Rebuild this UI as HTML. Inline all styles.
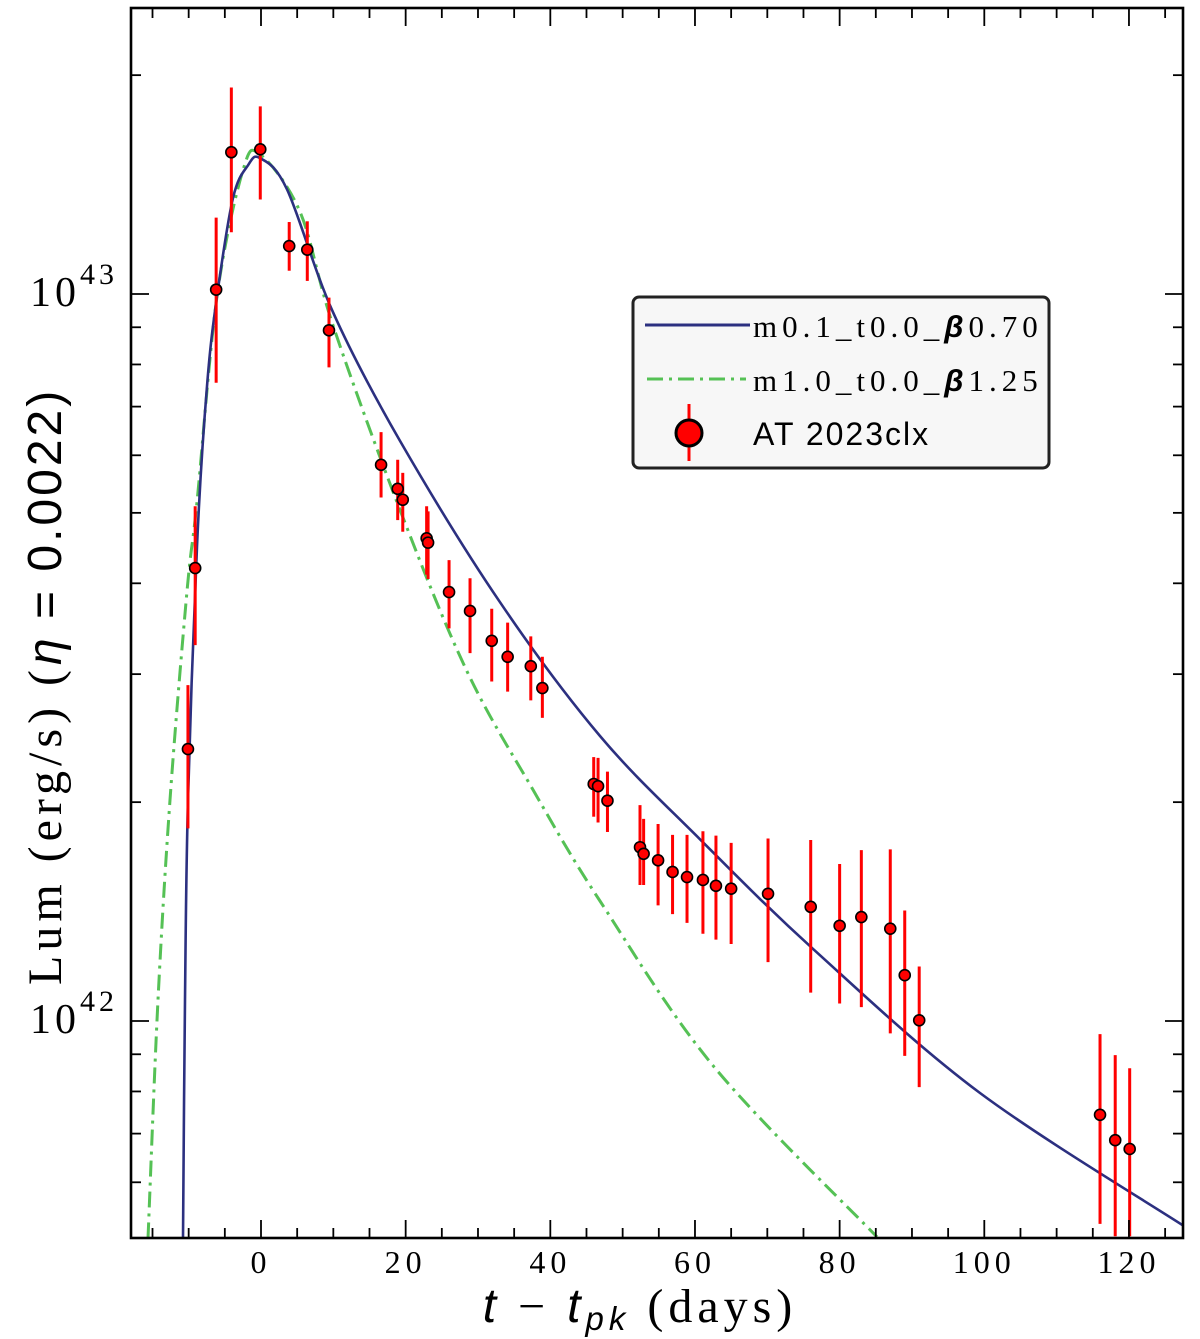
<!DOCTYPE html>
<html><head><meta charset="utf-8"><style>
html,body{margin:0;padding:0;background:#fff;}
svg{display:block;}
</style></head><body>
<div style="position:relative;width:1200px;height:1339px;">
<svg id="chart" width="1200" height="1339" viewBox="0 0 1200 1339" xmlns="http://www.w3.org/2000/svg" style="position:absolute;left:0;top:0;">
<g id="plot"></g>
</svg>
<svg width="1200" height="1339" xmlns="http://www.w3.org/2000/svg" style="position:absolute;left:0;top:0;pointer-events:none;">
  <text x="640" y="1322" text-anchor="middle" font-family="Liberation Serif, serif" font-size="48" letter-spacing="5"><tspan font-family="Liberation Sans, sans-serif" font-style="italic">t</tspan> − <tspan font-family="Liberation Sans, sans-serif" font-style="italic">t</tspan><tspan font-family="Liberation Sans, sans-serif" font-style="italic" font-size="33" dy="8">pk</tspan><tspan dy="-8"> (days)</tspan></text>
  <text transform="translate(61,985) rotate(-90)" text-anchor="start" font-family="Liberation Serif, serif" font-size="48" letter-spacing="5">Lum (erg/s) (<tspan font-family="Liberation Sans, sans-serif" font-style="italic" letter-spacing="3">η</tspan><tspan font-family="Liberation Sans, sans-serif" letter-spacing="3"> = 0.0022)</tspan></text>
  <g>
    <rect x="633" y="297" width="416" height="171" rx="6" fill="#f7f7f7" stroke="#222" stroke-width="3"/>
    <line x1="645" y1="325" x2="750" y2="325" stroke="#2c3080" stroke-width="3"/>
    <text x="753" y="337" font-family="Liberation Serif, serif" font-size="31" letter-spacing="5">m0.1_t0.0_<tspan font-style="italic" font-weight="bold" font-family="Liberation Sans, sans-serif">β</tspan>0.70</text>
    <line x1="647" y1="379" x2="746" y2="379" stroke="#55c155" stroke-width="3" stroke-dasharray="16,6,3,6"/>
    <text x="753" y="391" font-family="Liberation Serif, serif" font-size="31" letter-spacing="5">m1.0_t0.0_<tspan font-style="italic" font-weight="bold" font-family="Liberation Sans, sans-serif">β</tspan>1.25</text>
    <line x1="689" y1="404" x2="689" y2="461" stroke="#ff0000" stroke-width="3"/>
    <circle cx="689" cy="433" r="13" fill="#ff0000" stroke="#000" stroke-width="3"/>
    <text x="753" y="445" font-family="Liberation Sans, sans-serif" font-size="32" letter-spacing="2">AT 2023clx</text>
  </g>
</svg>
</div>
<script>
// Observed data (days since peak, log10 luminosity, errors in dex)
const obsDays=[-10.1,-9.1,-6.2,-4.1,-0.1,3.9,6.4,9.4,16.6,18.9,19.6,22.9,23.1,26.0,28.9,31.9,34.1,37.3,38.9,46.0,46.6,47.9,52.4,52.9,54.9,56.9,58.9,61.1,62.9,65.0,70.1,76.0,80.0,83.0,87.0,89.0,91.0,116.0,118.1,120.1];
const obsLogL=[42.374,42.623,43.006,43.195,43.199,43.066,43.061,42.950,42.765,42.732,42.717,42.664,42.658,42.590,42.564,42.523,42.501,42.488,42.458,42.326,42.323,42.303,42.239,42.230,42.221,42.205,42.198,42.194,42.186,42.182,42.175,42.157,42.131,42.143,42.127,42.063,42.001,41.871,41.836,41.824];
const obsErrUp=[.088,.085,.099,.089,.059,.033,.039,.045,.045,.040,.037,.044,.043,.044,.045,.044,.047,.041,.043,.037,.039,.040,.058,.048,.050,.051,.058,.067,.069,.063,.076,.092,.085,.092,.109,.089,.074,.111,.117,.111];
const obsErrDn=[.109,.106,.128,.110,.069,.034,.043,.051,.045,.043,.044,.050,.050,.050,.058,.056,.048,.047,.041,.045,.050,.043,.052,.043,.062,.058,.063,.074,.074,.076,.094,.118,.107,.124,.144,.111,.092,.150,.132,.120];
// Model m0.1_t0.0_beta0.70
const blueDays=[-10.78,-10.51,-10.09,-8.85,-7.47,-6.08,-3.87,-1.80,-0.14,3.59,9.95,19.22,33.04,46.87,60.69,76.46,99.41,127.75];
const blueLogL=[41.701,42.029,42.304,42.653,42.873,42.997,43.132,43.177,43.187,43.144,42.975,42.798,42.576,42.392,42.250,42.098,41.901,41.717];
// Model m1.0_t0.0_beta1.25
const greenDays=[-15.62,-14.24,-12.58,-10.23,-8.85,-6.08,-2.5,-0.14,5.39,9.95,19.22,28.48,37.61,46.87,62.63,85.17];
const greenLogL=[41.701,42.029,42.304,42.591,42.714,42.997,43.170,43.192,43.113,42.957,42.703,42.481,42.318,42.165,41.937,41.703];
const xTickLabels=[0,20,40,60,80,100,120];

const L=131,R=1183,T=8,B=1238;
const X0=261,XS=7.233;
const xs=d=>X0+d*XS;
const ys=lg=>294-(lg-43)*727;
const NS="http://www.w3.org/2000/svg";
const g=document.getElementById('plot');
function mk(tag,attrs,parent){const e=document.createElementNS(NS,tag);for(const k in attrs)e.setAttribute(k,attrs[k]);(parent||g).appendChild(e);return e;}

const defs=mk('defs',{});
const cp=mk('clipPath',{id:'clip'},defs);
mk('rect',{x:L,y:T,width:R-L,height:B-T},cp);
const clipG=mk('g',{'clip-path':'url(#clip)'});



function smoothPath(dx,dy){
  const p=dx.map((d,i)=>[xs(d),ys(dy[i])]);
  let s='M'+p[0][0].toFixed(1)+','+p[0][1].toFixed(1);
  for(let i=0;i<p.length-1;i++){
    const p0=p[Math.max(0,i-1)],p1=p[i],p2=p[i+1],p3=p[Math.min(p.length-1,i+2)];
    const c1=[p1[0]+(p2[0]-p0[0])/6,p1[1]+(p2[1]-p0[1])/6];
    const c2=[p2[0]-(p3[0]-p1[0])/6,p2[1]-(p3[1]-p1[1])/6];
    s+=' C'+c1[0].toFixed(1)+','+c1[1].toFixed(1)+' '+c2[0].toFixed(1)+','+c2[1].toFixed(1)+' '+p2[0].toFixed(1)+','+p2[1].toFixed(1);
  }
  return s;
}
const gp=mk('path',{d:smoothPath(greenDays,greenLogL),fill:'none',stroke:'#55c155','stroke-width':3,'stroke-dasharray':'16,6,3,6','stroke-linejoin':'round'},clipG);


const bp=mk('path',{d:smoothPath(blueDays,blueLogL),fill:'none',stroke:'#2c3080','stroke-width':2.6,'stroke-linejoin':'round'},clipG);



obsDays.forEach((d,i)=>{
  const x=xs(d);
  const eb=mk('line',{x1:x,x2:x,y1:ys(obsLogL[i]+obsErrUp[i]),y2:ys(obsLogL[i]-obsErrDn[i]),stroke:'#ff0000','stroke-width':3},clipG);
  
  
});
obsDays.forEach((d,i)=>{
  const c=mk('circle',{cx:xs(d),cy:ys(obsLogL[i]),r:5.5,fill:'#ff0000',stroke:'#000','stroke-width':1.6},clipG);
  
  
});

const tickG=mk('g',{stroke:'#000','stroke-width':1.8});


for(let d=-15;d<=125;d+=5){
  const x=xs(d); if(x<L||x>R)continue;
  const len=(d%20===0)?18:10;
  mk('line',{x1:x,x2:x,y1:B,y2:B-len},tickG);
  mk('line',{x1:x,x2:x,y1:T,y2:T+len},tickG);
}
for(let dec=41;dec<=43;dec++){
  for(let m=1;m<=9;m++){
    const y=ys(dec+Math.log10(m)); if(y<T||y>B)continue;
    const len=(m===1)?18:10;
    mk('line',{x1:L,x2:L+len,y1:y,y2:y},tickG);
    mk('line',{x1:R,x2:R-len,y1:y,y2:y},tickG);
  }
}
const frame=mk('rect',{x:L,y:T,width:R-L,height:B-T,fill:'none',stroke:'#000','stroke-width':2.6});



xTickLabels.forEach(v=>{
  const t=mk('text',{x:xs(v),y:1273,'text-anchor':'middle','font-family':'Liberation Serif, serif','font-size':32,'letter-spacing':5});
  t.textContent=v;
  
  
});
[[43,'10','43'],[42,'10','42']].forEach(a=>{
  const t=mk('text',{x:30,y:ys(a[0])+12,'font-family':'Liberation Serif, serif','font-size':42,'letter-spacing':4});
  t.textContent=a[1];
  const s=mk('tspan',{dy:-22,'font-size':30},t);s.textContent=a[2];
  
  
});
</script>
</body></html>
